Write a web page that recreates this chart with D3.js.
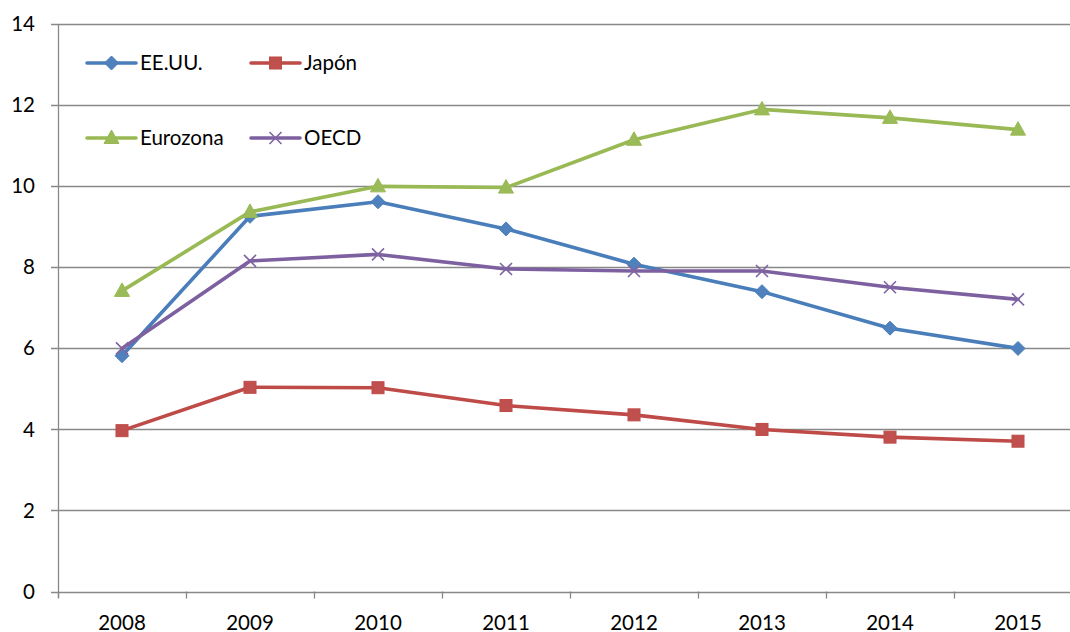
<!DOCTYPE html>
<html>
<head>
<meta charset="utf-8">
<script src="https://cdn.jsdelivr.net/npm/d3@7"></script>
<style>
html,body{margin:0;padding:0;background:#fff;overflow:hidden;}
svg{display:block;font-family:Lato,"Open Sans",sans-serif;}
</style>
</head>
<body>
<svg id="chart" width="1070" height="632"></svg>
<script>
const years = ["2008","2009","2010","2011","2012","2013","2014","2015"];
const eeuu = [5.82, 9.26, 9.62, 8.95, 8.08, 7.40, 6.50, 6.00];
const japon = [3.97, 5.04, 5.03, 4.59, 4.36, 4.00, 3.81, 3.71];
const eurozona = [7.42, 9.37, 10.0, 9.97, 11.15, 11.90, 11.69, 11.40];
const oecd = [6.00, 8.16, 8.32, 7.96, 7.91, 7.91, 7.51, 7.21];
const yTicks = [0, 2, 4, 6, 8, 10, 12, 14];

const series = [
  {name: "EE.UU.", values: eeuu, color: "#4A7EBB", fill: "#4F81BD", marker: "diamond"},
  {name: "Japón", values: japon, color: "#BE4B48", fill: "#C0504D", marker: "square"},
  {name: "Eurozona", values: eurozona, color: "#98B954", fill: "#9BBB59", marker: "triangle"},
  {name: "OECD", values: oecd, color: "#7D60A0", fill: "#8064A2", marker: "x"}
];

const svg = d3.select("#chart");
const mLeft = 58, mRight = 1082, mTop = 24.3, mBottom = 591.5;
const fs = 20.5;
const x = d3.scaleBand().domain(years).range([mLeft, mRight]);
const y = d3.scaleLinear().domain([0, 14]).range([mBottom, mTop]);
const grid = "#888888";

// gridlines
svg.append("g").selectAll("line").data(yTicks).join("line")
  .attr("x1", mLeft - 7).attr("x2", mRight)
  .attr("y1", d => Math.round(y(d)) + 0.5).attr("y2", d => Math.round(y(d)) + 0.5)
  .attr("stroke", grid).attr("stroke-width", 1.3);

// y axis
const yAxis = d3.axisLeft(y).tickValues(yTicks).tickSize(0).tickPadding(0);
const gy = svg.append("g").attr("transform", `translate(${mLeft - 23},0)`).call(yAxis);
gy.select(".domain").remove();
gy.selectAll("text").attr("font-size", fs).attr("fill", "#000").attr("font-family", "Lato, sans-serif");
svg.append("line").attr("x1", mLeft + 0.5).attr("x2", mLeft + 0.5).attr("y1", mTop).attr("y2", mBottom + 6)
  .attr("stroke", grid).attr("stroke-width", 1.3);

// x axis
const xAxis = d3.axisBottom(x).tickSize(0).tickPadding(0);
const gx = svg.append("g").attr("transform", `translate(0,${mBottom})`).call(xAxis);
gx.select(".domain").remove();
gx.selectAll("text").attr("font-size", fs).attr("fill", "#000").attr("font-family", "Lato, sans-serif")
  .attr("y", 38).attr("dy", 0);
const tickPos = years.map(d => x(d)).concat([x(years[years.length-1]) + x.bandwidth()]);
svg.append("g").selectAll("line").data(tickPos).join("line")
  .attr("x1", d => Math.round(d) + 0.5).attr("x2", d => Math.round(d) + 0.5)
  .attr("y1", mBottom).attr("y2", mBottom + 7)
  .attr("stroke", grid).attr("stroke-width", 1.3);

function drawMarker(g, type, cx, cy, s) {
  if (type === "diamond") {
    g.append("path").attr("d", `M${cx},${cy-7}L${cx+7},${cy}L${cx},${cy+7}L${cx-7},${cy}Z`)
      .attr("fill", s.fill).attr("stroke", s.color).attr("stroke-width", 1);
  } else if (type === "square") {
    g.append("rect").attr("x", cx - 6).attr("y", cy - 6).attr("width", 12).attr("height", 12)
      .attr("fill", s.fill).attr("stroke", s.color).attr("stroke-width", 1);
  } else if (type === "triangle") {
    g.append("path").attr("d", `M${cx},${cy-8}L${cx+7.5},${cy+5.5}L${cx-7.5},${cy+5.5}Z`)
      .attr("fill", s.fill).attr("stroke", s.color).attr("stroke-width", 1);
  } else {
    g.append("path").attr("d", `M${cx-6},${cy-6}L${cx+6},${cy+6}M${cx-6},${cy+6}L${cx+6},${cy-6}`)
      .attr("stroke", s.fill).attr("stroke-width", 1.6).attr("fill", "none");
  }
}

const line = d3.line().x((d, i) => x(years[i]) + x.bandwidth() / 2).y(d => y(d));
series.forEach(s => {
  const g = svg.append("g");
  g.append("path").attr("d", line(s.values)).attr("fill", "none")
    .attr("stroke", s.color).attr("stroke-width", 3.6).attr("stroke-linejoin", "round").attr("stroke-linecap", "round");
  s.values.forEach((v, i) => drawMarker(g, s.marker, x(years[i]) + x.bandwidth() / 2, y(v), s));
});

// legend
const legPos = [[87, 63], [251, 63], [87, 138], [251, 138]];
series.forEach((s, i) => {
  const [lx, ly] = legPos[i];
  const g = svg.append("g");
  g.append("line").attr("x1", lx).attr("x2", lx + 49).attr("y1", ly).attr("y2", ly)
    .attr("stroke", s.color).attr("stroke-width", 3.6).attr("stroke-linecap", "round");
  drawMarker(g, s.marker, lx + 24.5, ly, s);
  g.append("text").attr("x", lx + 53).attr("y", ly).attr("dy", "0.35em")
    .attr("font-size", fs).attr("fill", "#000").text(s.name);
});
</script>
</body>
</html>
